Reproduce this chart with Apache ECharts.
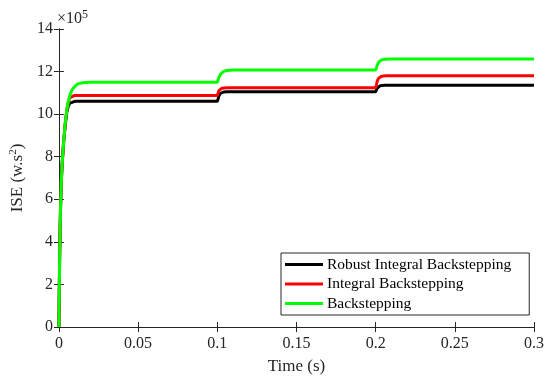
<!DOCTYPE html>
<html><head><meta charset="utf-8">
<script src="https://cdn.jsdelivr.net/npm/echarts@6/dist/echarts.min.js"></script>
<style>html,body{margin:0;padding:0;background:#fff}#c{width:550px;height:382px}</style>
</head><body><div id="c"></div>
<script>
const seriesNames = ['Robust Integral Backstepping', 'Integral Backstepping', 'Backstepping'];
const time = [0, 0.0005, 0.001, 0.0015, 0.002, 0.003, 0.004, 0.005, 0.006, 0.007, 0.008, 0.010, 0.012, 0.015, 0.02,
  0.1, 0.1005, 0.101, 0.102, 0.103, 0.104, 0.106, 0.108, 0.11,
  0.2, 0.2005, 0.201, 0.202, 0.203, 0.204, 0.206, 0.208, 0.21, 0.3];
const robustIB = [0, 3.5, 5.5, 6.8, 7.6, 8.7, 9.5, 10.1, 10.4, 10.52, 10.58, 10.6, 10.6, 10.6, 10.6,
  10.6, 10.7, 10.85, 10.97, 11.02, 11.04, 11.05, 11.05, 11.05,
  11.05, 11.12, 11.22, 11.31, 11.34, 11.355, 11.36, 11.36, 11.36, 11.36];
const integralB = [0, 3.5, 5.5, 6.8, 7.6, 8.7, 9.55, 10.2, 10.6, 10.78, 10.85, 10.88, 10.88, 10.88, 10.88,
  10.88, 10.98, 11.1, 11.19, 11.22, 11.235, 11.24, 11.24, 11.24,
  11.24, 11.38, 11.55, 11.7, 11.76, 11.785, 11.8, 11.8, 11.8, 11.8];
const backstep = [0, 3.5, 5.5, 6.8, 7.6, 8.7, 9.6, 10.2, 10.6, 10.9, 11.1, 11.3, 11.42, 11.48, 11.5,
  11.5, 11.6, 11.72, 11.87, 11.96, 12.01, 12.05, 12.06, 12.07,
  12.07, 12.17, 12.3, 12.45, 12.52, 12.56, 12.58, 12.59, 12.59, 12.59];
const xTicks = [0, 0.05, 0.1, 0.15, 0.2, 0.25, 0.3];
const yTicks = [0, 2, 4, 6, 8, 10, 12, 14];

const colors = ['#000000', '#ff0000', '#00ff00'];
const values = [robustIB, integralB, backstep];
const font = "'Liberation Serif', 'Times New Roman', serif";
const axisCol = '#262626';

const chart = echarts.init(document.getElementById('c'), null, {renderer: 'canvas'});
const axisCommon = {
  axisLine: {show: true, lineStyle: {color: axisCol, width: 1}},
  axisTick: {show: true, inside: true, length: 5, lineStyle: {color: axisCol}},
  splitLine: {show: false}
};
chart.setOption({
  animation: false,
  backgroundColor: '#fff',
  textStyle: {fontFamily: font},
  grid: {left: 56, right: 16, top: 29, bottom: 55},
  xAxis: [
    Object.assign({type: 'value', min: xTicks[0], max: xTicks[xTicks.length - 1], interval: 0.05,
      name: 'Time (s)', nameLocation: 'middle', nameGap: 31,
      nameTextStyle: {fontFamily: font, fontSize: 17, color: axisCol},
      axisLabel: {fontFamily: font, fontSize: 16, color: axisCol, margin: 9,
        formatter: v => String(+v.toFixed(2))}}, axisCommon),
    Object.assign({type: 'value', position: 'top', min: 0, max: 0.3, interval: 0.05,
      axisLabel: {show: false}}, axisCommon)
  ],
  yAxis: [
    Object.assign({type: 'value', min: yTicks[0], max: yTicks[yTicks.length - 1], interval: 2,
      name: '{n|ISE (w.s}{s|2}{n|)}', nameLocation: 'middle', nameGap: 30, nameRotate: 90,
      nameTextStyle: {fontFamily: font, rich: {
        n: {fontFamily: font, fontSize: 17, color: axisCol},
        s: {fontFamily: font, fontSize: 11, color: axisCol, verticalAlign: 'top', padding: [0, 0, 8, 0]}
      }},
      axisLabel: {fontFamily: font, fontSize: 16, color: axisCol, margin: 6}}, axisCommon),
    Object.assign({type: 'value', position: 'right', min: 0, max: 14, interval: 2,
      axisLabel: {show: false}}, axisCommon)
  ],
  legend: {
    left: 281, top: 253, orient: 'vertical',
    backgroundColor: '#fff', borderColor: axisCol, borderWidth: 1,
    padding: [3, 18, 3, 4], itemGap: 2.5, itemWidth: 38, itemHeight: 3,
    icon: 'rect',
    textStyle: {fontFamily: font, fontSize: 15.5, color: '#000', lineHeight: 17, padding: [0, 0, 0, -1]},
    data: seriesNames
  },
  graphic: [{
    type: 'text', left: 57, top: 9,
    style: {
      rich: {
        a: {fontFamily: font, fontSize: 16, fill: axisCol},
        b: {fontFamily: font, fontSize: 12, fill: axisCol, verticalAlign: 'top', padding: [0, 0, 8, 0]}
      },
      font: '16px ' + font,
      text: '{a|×10}{b|5}'
    }
  }],
  series: seriesNames.map((n, i) => ({
    name: n, type: 'line', showSymbol: false, symbol: 'none',
    lineStyle: {color: colors[i], width: 3}, itemStyle: {color: colors[i]},
    data: time.map((t, k) => [t, values[i][k]]),
    xAxisIndex: 0, yAxisIndex: 0
  }))
});
</script></body></html>
